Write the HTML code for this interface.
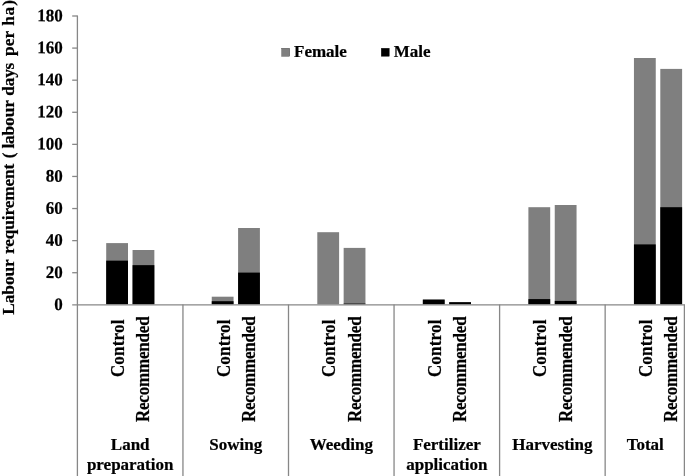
<!DOCTYPE html>
<html><head><meta charset="utf-8"><title>Labour requirement</title>
<style>html,body{margin:0;padding:0;background:#fff;overflow:hidden}svg{display:block;filter:grayscale(1)}</style></head>
<body>
<svg width="685" height="476" viewBox="0 0 685 476" style="display:block">
<rect width="685" height="476" fill="#fff"/>
<rect x="106.20" y="243.10" width="21.8" height="61.20" fill="#7f7f7f"/>
<rect x="106.20" y="260.65" width="21.8" height="43.65" fill="#000"/>
<rect x="132.55" y="250.00" width="21.8" height="54.30" fill="#7f7f7f"/>
<rect x="132.55" y="265.15" width="21.8" height="39.15" fill="#000"/>
<rect x="211.75" y="296.70" width="21.8" height="7.60" fill="#7f7f7f"/>
<rect x="211.75" y="301.20" width="21.8" height="3.10" fill="#000"/>
<rect x="238.10" y="228.00" width="21.8" height="76.30" fill="#7f7f7f"/>
<rect x="238.10" y="272.60" width="21.8" height="31.70" fill="#000"/>
<rect x="317.30" y="232.20" width="21.8" height="72.10" fill="#7f7f7f"/>
<rect x="343.65" y="247.90" width="21.8" height="56.40" fill="#7f7f7f"/>
<rect x="343.65" y="303.60" width="21.8" height="0.70" fill="#000"/>
<rect x="422.85" y="299.60" width="21.8" height="4.70" fill="#7f7f7f"/>
<rect x="422.85" y="299.60" width="21.8" height="4.70" fill="#000"/>
<rect x="449.20" y="302.20" width="21.8" height="2.10" fill="#7f7f7f"/>
<rect x="449.20" y="302.20" width="21.8" height="2.10" fill="#000"/>
<rect x="528.40" y="207.20" width="21.8" height="97.10" fill="#7f7f7f"/>
<rect x="528.40" y="299.10" width="21.8" height="5.20" fill="#000"/>
<rect x="554.75" y="205.00" width="21.8" height="99.30" fill="#7f7f7f"/>
<rect x="554.75" y="300.90" width="21.8" height="3.40" fill="#000"/>
<rect x="633.95" y="58.00" width="21.8" height="246.30" fill="#7f7f7f"/>
<rect x="633.95" y="244.40" width="21.8" height="59.90" fill="#000"/>
<rect x="660.30" y="68.90" width="21.8" height="235.40" fill="#7f7f7f"/>
<rect x="660.30" y="207.20" width="21.8" height="97.10" fill="#000"/>
<g stroke="#878787" stroke-width="1.3" fill="none">
<line x1="77.4" y1="15.4" x2="77.4" y2="476"/>
<line x1="72.2" y1="304.8" x2="685" y2="304.8"/>
<line x1="72.2" y1="16.00" x2="77.4" y2="16.00"/>
<line x1="72.2" y1="48.09" x2="77.4" y2="48.09"/>
<line x1="72.2" y1="80.18" x2="77.4" y2="80.18"/>
<line x1="72.2" y1="112.27" x2="77.4" y2="112.27"/>
<line x1="72.2" y1="144.36" x2="77.4" y2="144.36"/>
<line x1="72.2" y1="176.45" x2="77.4" y2="176.45"/>
<line x1="72.2" y1="208.54" x2="77.4" y2="208.54"/>
<line x1="72.2" y1="240.63" x2="77.4" y2="240.63"/>
<line x1="72.2" y1="272.72" x2="77.4" y2="272.72"/>
<line x1="182.95" y1="304.5" x2="182.95" y2="476"/>
<line x1="288.50" y1="304.5" x2="288.50" y2="476"/>
<line x1="394.05" y1="304.5" x2="394.05" y2="476"/>
<line x1="499.60" y1="304.5" x2="499.60" y2="476"/>
<line x1="605.15" y1="304.5" x2="605.15" y2="476"/>
<line x1="684.4" y1="304.8" x2="684.4" y2="476"/>
</g>
<g font-family="'Liberation Serif', 'Times New Roman', serif" font-weight="bold" font-size="17" fill="#000" stroke="#000" stroke-width="0.22">
<text transform="translate(62.8,21.20) rotate(0.1) scale(1,1.04)" text-anchor="end">180</text>
<text transform="translate(62.8,53.29) rotate(0.1) scale(1,1.04)" text-anchor="end">160</text>
<text transform="translate(62.8,85.38) rotate(0.1) scale(1,1.04)" text-anchor="end">140</text>
<text transform="translate(62.8,117.47) rotate(0.1) scale(1,1.04)" text-anchor="end">120</text>
<text transform="translate(62.8,149.56) rotate(0.1) scale(1,1.04)" text-anchor="end">100</text>
<text transform="translate(62.8,181.65) rotate(0.1) scale(1,1.04)" text-anchor="end">80</text>
<text transform="translate(62.8,213.74) rotate(0.1) scale(1,1.04)" text-anchor="end">60</text>
<text transform="translate(62.8,245.83) rotate(0.1) scale(1,1.04)" text-anchor="end">40</text>
<text transform="translate(62.8,277.92) rotate(0.1) scale(1,1.04)" text-anchor="end">20</text>
<text transform="translate(62.8,310.01) rotate(0.1) scale(1,1.04)" text-anchor="end">0</text>
<text transform="translate(14.3,314.70) rotate(-90)" font-size="17.35" letter-spacing="-0.1">Labour</text>
<text transform="translate(14.3,253.94) rotate(-90)" font-size="17.35" letter-spacing="-0.16">requirement</text>
<text transform="translate(14.3,158.32) rotate(-90)" font-size="17.35" letter-spacing="0">(</text>
<text transform="translate(14.3,148.61) rotate(-90)" font-size="17.35" letter-spacing="-0.14">labour</text>
<text transform="translate(14.3,95.70) rotate(-90)" font-size="17.35" letter-spacing="-0.23">days</text>
<text transform="translate(14.3,55.92) rotate(-90)" font-size="17.35" letter-spacing="0.0">per</text>
<text transform="translate(14.3,25.83) rotate(-90)" font-size="17.35" letter-spacing="0.8">ha</text>
<text transform="translate(14.3,5.86) rotate(-90)" font-size="17.35" letter-spacing="0">)</text>
<rect x="281.6" y="48.2" width="8.2" height="8.2" fill="#7f7f7f"/>
<text transform="translate(294.0,56.9)">Female</text>
<rect x="381.2" y="48.2" width="8.2" height="8.2" fill="#000"/>
<text transform="translate(393.8,56.9)">Male</text>
<text transform="translate(124.20,377.1) rotate(-90) scale(1,1.07)" letter-spacing="0.2">Control</text>
<text transform="translate(149.40,422.1) rotate(-90) scale(1,1.07)" letter-spacing="-0.18">Recommended</text>
<text transform="translate(229.75,377.1) rotate(-90) scale(1,1.07)" letter-spacing="0.2">Control</text>
<text transform="translate(254.95,422.1) rotate(-90) scale(1,1.07)" letter-spacing="-0.18">Recommended</text>
<text transform="translate(335.30,377.1) rotate(-90) scale(1,1.07)" letter-spacing="0.2">Control</text>
<text transform="translate(360.50,422.1) rotate(-90) scale(1,1.07)" letter-spacing="-0.18">Recommended</text>
<text transform="translate(440.85,377.1) rotate(-90) scale(1,1.07)" letter-spacing="0.2">Control</text>
<text transform="translate(466.05,422.1) rotate(-90) scale(1,1.07)" letter-spacing="-0.18">Recommended</text>
<text transform="translate(546.40,377.1) rotate(-90) scale(1,1.07)" letter-spacing="0.2">Control</text>
<text transform="translate(571.60,422.1) rotate(-90) scale(1,1.07)" letter-spacing="-0.18">Recommended</text>
<text transform="translate(651.95,377.1) rotate(-90) scale(1,1.07)" letter-spacing="0.2">Control</text>
<text transform="translate(677.15,422.1) rotate(-90) scale(1,1.07)" letter-spacing="-0.18">Recommended</text>
<text transform="translate(130.18,450.0) scale(1,1.02)" text-anchor="middle">Land</text>
<text transform="translate(130.18,470.0) scale(1,1.02)" text-anchor="middle">preparation</text>
<text transform="translate(235.72,450.0) scale(1,1.02)" text-anchor="middle">Sowing</text>
<text transform="translate(341.27,450.0) scale(1,1.02)" text-anchor="middle">Weeding</text>
<text transform="translate(446.83,450.0) scale(1,1.02)" text-anchor="middle">Fertilizer</text>
<text transform="translate(446.83,470.0) scale(1,1.02)" text-anchor="middle">application</text>
<text transform="translate(552.38,450.0) scale(1,1.02)" text-anchor="middle">Harvesting</text>
<text transform="translate(645.20,450.0) scale(1,1.02)" text-anchor="middle">Total</text>
</g></svg>
</body></html>
